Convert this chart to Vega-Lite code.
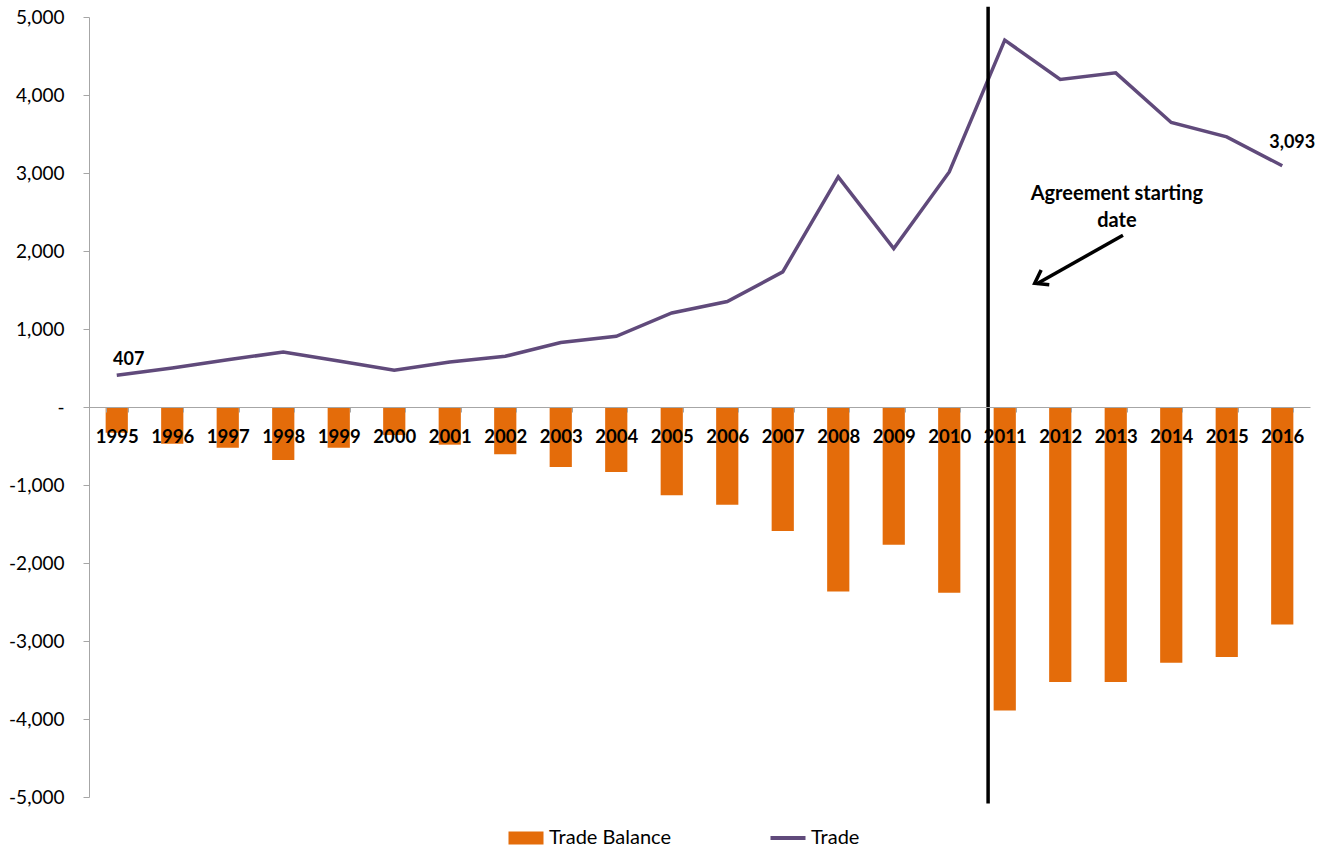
{
  "$schema": "https://vega.github.io/schema/vega-lite/v6.json",
  "width": 1221,
  "height": 780,
  "autosize": "none",
  "padding": {"left": 89, "top": 17, "right": 20, "bottom": 53},
  "background": "white",
  "config": {"font": "Lato", "view": {"stroke": null}},
  "data": {
    "values": [
      {"year": 1995, "trade": 407, "balance": -330},
      {"year": 1996, "trade": 500, "balance": -470},
      {"year": 1997, "trade": 605, "balance": -521},
      {"year": 1998, "trade": 705, "balance": -680},
      {"year": 1999, "trade": 590, "balance": -521},
      {"year": 2000, "trade": 470, "balance": -360},
      {"year": 2001, "trade": 577, "balance": -483},
      {"year": 2002, "trade": 650, "balance": -607},
      {"year": 2003, "trade": 826, "balance": -769},
      {"year": 2004, "trade": 907, "balance": -834},
      {"year": 2005, "trade": 1206, "balance": -1132},
      {"year": 2006, "trade": 1352, "balance": -1252},
      {"year": 2007, "trade": 1732, "balance": -1590},
      {"year": 2008, "trade": 2950, "balance": -2364},
      {"year": 2009, "trade": 2031, "balance": -1765},
      {"year": 2010, "trade": 3014, "balance": -2381},
      {"year": 2011, "trade": 4704, "balance": -3890},
      {"year": 2012, "trade": 4199, "balance": -3527},
      {"year": 2013, "trade": 4284, "balance": -3527},
      {"year": 2014, "trade": 3647, "balance": -3279},
      {"year": 2015, "trade": 3463, "balance": -3206},
      {"year": 2016, "trade": 3093, "balance": -2787}
    ]
  },
  "layer": [
    {
      "encoding": {
        "x": {
          "field": "year",
          "type": "ordinal",
          "scale": {"paddingInner": 0.6, "paddingOuter": 0.3},
          "axis": {
            "title": null,
            "offset": -390,
            "tickBand": "extent",
            "tickSize": 5,
            "tickColor": "#a6a6a6",
            "domainColor": "#a6a6a6",
            "labelFontSize": 18.5,
            "labelFontWeight": "bold",
            "labelColor": "#000000",
            "labelBaseline": "alphabetic",
            "labelPadding": 30,
            "labelAngle": 0,
            "zindex": 1
          }
        }
      },
      "layer": [
        {
          "mark": {"type": "bar"},
          "encoding": {
            "y": {
              "field": "balance",
              "type": "quantitative",
              "scale": {"domain": [-5000, 5000], "nice": false},
              "axis": {
                "title": null,
                "grid": false,
                "values": [-5000, -4000, -3000, -2000, -1000, 0, 1000, 2000, 3000, 4000, 5000],
                "labelExpr": "datum.value === 0 ? '-' : (datum.value < 0 ? '-' : '') + format(abs(datum.value), ',')",
                "domainColor": "#a6a6a6",
                "tickColor": "#a6a6a6",
                "tickSize": 6,
                "labelPadding": 19,
                "labelFontSize": 19,
                "labelColor": "#000000"
              }
            },
            "color": {
              "datum": "Trade Balance",
              "scale": {"domain": ["Trade Balance", "Trade"], "range": ["#e46c0a", "#604a7b"]},
              "legend": {
                "orient": "none",
                "legendX": 427,
                "legendY": 811,
                "direction": "horizontal",
                "title": null,
                "symbolSize": 1225,
                "labelFontSize": 20,
                "labelColor": "#000000",
                "labelOffset": 13,
                "columnPadding": 90,
                "encode": {
                  "symbols": {
                    "update": {
                      "shape": {"signal": "datum.value === 'Trade' ? 'M-1,0H1' : 'M-1,-0.37H1V0.37H-1Z'"},
                      "fill": {"signal": "datum.value === 'Trade' ? 'transparent' : '#e46c0a'"},
                      "stroke": {"signal": "datum.value === 'Trade' ? '#604a7b' : '#e46c0a'"},
                      "strokeWidth": {"signal": "datum.value === 'Trade' ? 4 : 0"},
                      "opacity": {"value": 1}
                    }
                  }
                }
              }
            }
          }
        },
        {
          "mark": {"type": "line", "strokeWidth": 3.5},
          "encoding": {
            "x": {"field": "year", "type": "ordinal", "bandPosition": 0.5},
            "y": {"field": "trade", "type": "quantitative"},
            "color": {"datum": "Trade"}
          }
        },
        {
          "transform": [{"filter": "datum.year === 1995"}],
          "mark": {"type": "text", "fontSize": 18, "fontWeight": "bold", "dx": 12, "dy": -10, "baseline": "alphabetic", "color": "#000000"},
          "encoding": {
            "x": {"field": "year", "type": "ordinal", "bandPosition": 0.5},
            "y": {"field": "trade", "type": "quantitative"},
            "text": {"field": "trade", "type": "quantitative", "format": ","}
          }
        },
        {
          "transform": [{"filter": "datum.year === 2016"}],
          "mark": {"type": "text", "fontSize": 18, "fontWeight": "bold", "dx": 10, "dy": -18, "baseline": "alphabetic", "color": "#000000"},
          "encoding": {
            "x": {"field": "year", "type": "ordinal", "bandPosition": 0.5},
            "y": {"field": "trade", "type": "quantitative"},
            "text": {"field": "trade", "type": "quantitative", "format": ","}
          }
        }
      ]
    },
    {
      "data": {"values": [{}]},
      "layer": [
        {
          "mark": {"type": "rule", "color": "#000000", "strokeWidth": 3.5},
          "encoding": {
            "x": {"datum": 2010.7, "type": "quantitative", "scale": {"domain": [1994.5, 2016.5], "nice": false, "zero": false}, "axis": null},
            "y": {"datum": 5130, "type": "quantitative"},
            "y2": {"datum": -5083}
          }
        },
        {
          "mark": {"type": "rule", "color": "#000000", "strokeWidth": 3.5},
          "encoding": {
            "x": {"datum": 2013.13, "type": "quantitative"},
            "y": {"datum": 2202, "type": "quantitative"},
            "x2": {"datum": 2011.58},
            "y2": {"datum": 1580}
          }
        },
        {
          "mark": {"type": "point", "shape": "M-0.7,1L0,0L0.7,1", "size": 576, "angle": 241, "filled": false, "stroke": "#000000", "strokeWidth": 3.5, "opacity": 1},
          "encoding": {
            "x": {"datum": 2011.54, "type": "quantitative"},
            "y": {"datum": 1587, "type": "quantitative"}
          }
        },
        {
          "mark": {"type": "text", "text": ["Agreement starting", "date"], "fontSize": 20, "fontWeight": "bold", "align": "center", "baseline": "alphabetic", "lineHeight": 27, "color": "#000000"},
          "encoding": {
            "x": {"datum": 2013.02, "type": "quantitative"},
            "y": {"datum": 2651, "type": "quantitative"}
          }
        }
      ]
    }
  ],
  "resolve": {"scale": {"x": "independent"}, "axis": {"x": "independent"}}
}
